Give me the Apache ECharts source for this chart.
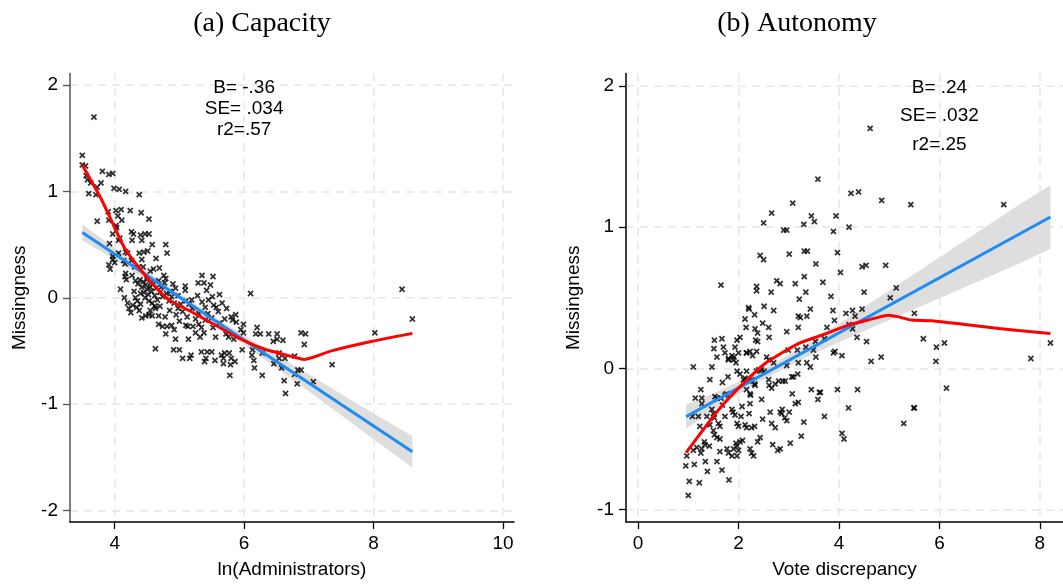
<!DOCTYPE html>
<html><head><meta charset="utf-8">
<script src="https://cdn.jsdelivr.net/npm/echarts@6/dist/echarts.min.js"></script>
<style>html,body{margin:0;padding:0;background:#fff}#c{width:1063px;height:584px}</style>
</head><body><div id="c"></div>
<script>
// ---------- Panel (a) Capacity ----------
const capacityPoints = [
[3.68,1.70],[3.50,1.34],[3.50,1.25],[3.55,1.24],[3.56,1.15],[3.58,1.11],[3.63,1.08],[3.73,1.04],[3.79,1.08],[3.60,0.98],[3.71,0.97],[3.81,1.19],[3.91,1.16],[3.97,1.17],[3.99,1.03],[4.07,1.02],[4.17,1.00],[4.38,0.97],[3.73,0.72],[3.90,0.81],[3.91,0.73],[4.02,0.82],[4.10,0.83],[4.05,0.77],[4.11,0.73],[4.24,0.82],[4.41,0.80],[4.53,0.74],[4.02,0.68],[4.03,0.66],[3.97,0.60],[4.06,0.54],[4.08,0.56],[3.92,0.51],[4.26,0.62],[4.29,0.60],[4.40,0.59],[4.47,0.60],[4.53,0.60],[4.27,0.54],[4.42,0.54],[4.58,0.50],[4.79,0.50],[4.81,0.42],[3.97,0.39],[3.97,0.36],[4.06,0.42],[4.17,0.43],[4.20,0.42],[4.00,0.33],[3.91,0.31],[3.93,0.27],[4.14,0.35],[4.16,0.32],[4.26,0.35],[4.38,0.42],[4.45,0.43],[4.51,0.44],[4.42,0.36],[4.64,0.37],[4.31,0.29],[4.37,0.29],[4.44,0.29],[4.55,0.25],[4.60,0.27],[4.69,0.28],[4.17,0.23],[4.16,0.20],[4.18,0.17],[4.27,0.21],[4.32,0.16],[4.09,0.08],[4.39,0.17],[4.36,0.13],[4.76,0.21],[4.79,0.18],[4.77,0.14],[4.90,0.13],[4.94,0.09],[5.09,0.11],[5.09,0.07],[5.35,0.21],[5.52,0.20],[5.29,0.14],[5.38,0.14],[5.42,0.07],[6.10,0.04],[5.19,-0.02],[5.51,0.01],[5.10,-0.03],[4.32,0.00],
[4.42,0.10],[4.45,0.05],[4.48,0.12],[4.50,0.08],[4.52,0.03],[4.55,0.10],[4.57,0.06],[4.60,0.13],[4.62,0.02],[4.64,0.09],[4.47,0.00],[4.53,-0.03],[4.58,-0.05],[4.66,-0.02],[4.70,0.05],[4.72,0.10],[4.74,0.01],[4.80,0.04],[4.84,-0.03],[4.86,0.06],[4.44,0.15],[4.50,0.17],[4.56,0.14],[4.68,0.16],[4.62,-0.08],[4.98,0.02],[5.02,-0.06],[4.92,-0.05],[4.88,0.01],[4.40,0.04],
[4.22,-0.10],[4.28,-0.07],[4.34,-0.09],[4.48,-0.17],[4.53,-0.16],[4.58,-0.17],[4.63,-0.10],[4.68,-0.17],[4.78,-0.18],[4.81,-0.27],[4.68,-0.25],[4.74,-0.27],[4.88,-0.26],[4.92,-0.30],[4.79,-0.34],[4.94,-0.39],[5.10,-0.26],[5.13,-0.27],[5.21,-0.27],[5.25,-0.33],[5.14,-0.39],[4.63,-0.48],[4.91,-0.49],[5.00,-0.49],[5.40,-0.09],[5.44,-0.15],[5.53,-0.07],[5.57,-0.09],[5.50,-0.19],[5.73,-0.10],[5.80,-0.18],[5.82,-0.21],[5.87,-0.16],[5.88,-0.23],[5.99,-0.25],[5.30,-0.25],[5.34,-0.28],[5.38,-0.33],[5.32,-0.37],[5.52,-0.28],[5.56,-0.37],[5.72,-0.34],[5.76,-0.37],[5.95,-0.30],[5.99,-0.33],[5.84,-0.39],[6.20,-0.28],[6.25,-0.34],[6.38,-0.34],[6.51,-0.34],[6.60,-0.40],[6.18,-0.34],[6.45,-0.41],[6.51,-0.39],[6.88,-0.33],[6.95,-0.34],[6.93,-0.44],[8.02,-0.33],[8.44,0.08],[8.60,-0.20],[5.97,-0.49],[6.13,-0.49],
[5.05,-0.57],[5.16,-0.57],[5.18,-0.54],[5.34,-0.51],[5.43,-0.51],[5.50,-0.51],[5.41,-0.57],[5.39,-0.60],[5.55,-0.59],[5.65,-0.54],[5.68,-0.57],[5.70,-0.52],[5.68,-0.62],[5.77,-0.52],[5.80,-0.57],[5.79,-0.63],[5.86,-0.60],[5.78,-0.73],[6.12,-0.54],[6.15,-0.59],[6.16,-0.66],[6.28,-0.73],[6.28,-0.52],[6.46,-0.62],[6.54,-0.52],[6.54,-0.57],[6.58,-0.66],[6.63,-0.57],[6.62,-0.78],[6.64,-0.90],[6.78,-0.55],[6.78,-0.72],[6.83,-0.68],[6.88,-0.68],[6.82,-0.81],[7.07,-0.79],[7.36,-0.63],
[4.25,-0.14],[4.38,-0.12],[4.42,-0.19],[4.55,-0.12],[4.70,-0.08],[4.85,-0.12],[4.95,-0.16],[5.05,-0.13],[5.12,-0.18],[5.20,-0.10],[5.25,-0.20],[5.30,-0.15],[5.00,-0.22],[4.98,-0.10],[5.15,-0.06],[5.28,0.02],[5.35,-0.04],[5.45,-0.02],[5.62,0.03],[5.66,-0.05],[5.48,0.12],[5.60,-0.13],[5.40,-0.21],[5.62,-0.24],[5.70,-0.20],[4.15,0.00],[4.20,-0.05],[4.30,0.06],[4.35,-0.03],[4.40,-0.06]
];
const capFitX = [3.5, 8.6];
const capFitY = [0.615, -1.449];
const capBandX = [3.5, 4, 4.5, 5, 5.5, 6, 6.5, 7, 7.5, 8, 8.6];
const capBandHi = [0.69, 0.467, 0.25, 0.039, -0.16, -0.353, -0.54, -0.72, -0.905, -1.088, -1.30];
const capBandLo = [0.54, 0.357, 0.17, -0.025, -0.23, -0.443, -0.66, -0.88, -1.105, -1.332, -1.597];
const capLowessX = [3.5, 3.8, 4.0, 4.16, 4.53, 4.84, 5.15, 5.36, 5.89, 6.3, 6.78, 6.93, 7.35, 7.98, 8.6];
const capLowessY = [1.248, 0.92, 0.66, 0.46, 0.17, -0.02, -0.12, -0.19, -0.37, -0.48, -0.56, -0.58, -0.50, -0.41, -0.335];
const capXTicks = [4, 6, 8, 10];
const capYTicks = [-2, -1, 0, 1, 2];
const capStatsText = ['B= -.36', 'SE= .034', 'r2=.57'];
const capStatsY = [1.975, 1.775, 1.585];

// ---------- Panel (b) Autonomy ----------
const autonomyPoints = [
[4.62,1.70],[3.58,1.34],[4.24,1.24],[4.39,1.25],[3.08,1.17],[4.85,1.19],[5.43,1.16],[7.28,1.16],[2.66,1.10],[3.45,1.08],[3.51,1.04],[3.94,1.08],[2.50,1.03],[3.30,1.02],[2.90,0.98],[2.96,0.98],[3.89,0.97],[4.20,1.00],[2.43,0.80],[2.50,0.77],[3.01,0.81],[3.31,0.83],[3.37,0.83],[3.97,0.82],[3.54,0.74],[4.46,0.72],[4.54,0.73],[4.93,0.73],[4.03,0.68],[1.65,0.59],[2.36,0.58],[2.36,0.55],[2.76,0.62],[2.83,0.60],[2.65,0.54],[3.13,0.60],[3.31,0.65],[3.34,0.54],[3.68,0.61],[3.21,0.49],[3.84,0.51],[4.50,0.54],[5.14,0.57],[5.02,0.50],[2.20,0.43],[2.21,0.42],[2.51,0.44],[2.70,0.41],[2.32,0.38],[2.13,0.35],[3.19,0.37],[3.23,0.36],[3.36,0.37],[3.43,0.42],[3.88,0.41],[4.14,0.39],[4.27,0.41],[4.32,0.37],[4.46,0.42],[5.50,0.39],[3.91,0.34],[2.48,0.32],[2.60,0.29],[2.15,0.29],[2.33,0.28],[2.38,0.25],[3.19,0.29],[3.76,0.29],[4.20,0.31],[4.27,0.28],[2.96,0.26],[2.61,0.22],[1.52,0.20],[1.67,0.21],[1.97,0.20],[2.03,0.22],[2.34,0.20],[2.38,0.19],[4.36,0.22],[4.55,0.19],[5.68,0.21],[5.94,0.15],[6.10,0.18],[8.21,0.18],[1.51,0.14],[1.70,0.15],[1.73,0.11],[1.93,0.15],[1.57,0.08],[1.80,0.07],[1.91,0.08],[2.16,0.11],[2.23,0.12],[2.36,0.12],[2.56,0.08],[2.99,0.13],[3.17,0.13],[3.34,0.15],[3.53,0.19],[3.71,0.21],[3.49,0.13],[3.89,0.11],[3.92,0.12],[4.06,0.09],[4.84,0.08],[7.82,0.07],
[1.10,0.01],[1.47,0.01],[4.64,0.05],[5.93,0.05],[6.14,-0.14],[1.43,-0.08],[1.68,-0.10],[1.79,-0.06],[1.25,-0.15],[1.14,-0.21],[1.27,-0.21],[1.27,-0.25],[1.53,-0.20],[1.57,-0.21],[1.65,-0.21],[1.73,-0.19],[1.76,-0.18],[1.68,-0.26],[1.08,-0.34],[1.20,-0.34],[1.37,-0.34],[1.47,-0.29],[1.50,-0.32],[1.52,-0.35],[1.23,-0.41],[1.43,-0.40],[1.50,-0.44],[1.60,-0.39],[1.63,-0.41],[1.52,-0.47],[1.57,-0.49],[1.63,-0.50],[1.73,-0.34],[1.87,-0.29],[1.89,-0.31],[1.93,-0.33],[1.10,-0.58],[1.17,-0.56],[1.27,-0.57],[1.33,-0.54],[1.32,-0.52],[1.42,-0.55],[1.25,-0.60],[1.63,-0.59],[1.77,-0.57],[1.80,-0.60],[1.87,-0.62],[1.90,-0.57],[1.95,-0.53],[1.97,-0.55],[2.00,-0.58],[2.03,-0.52],[2.08,-0.51],[1.97,-0.62],[0.97,-0.62],[0.95,-0.69],[1.12,-0.68],[1.02,-0.80],[1.00,-0.90],[1.22,-0.81],[1.38,-0.73],[1.34,-0.66],[1.57,-0.66],[1.67,-0.72],[1.81,-0.79],[2.23,-0.57],[2.26,-0.60],[2.30,-0.62],[2.38,-0.52],[2.43,-0.49],[2.13,-0.40],[2.16,-0.42],[2.26,-0.42],[2.32,-0.41],[1.97,-0.39],[2.00,-0.41],[2.05,-0.34],[2.21,-0.32],[2.48,-0.36],[2.07,-0.27],[2.23,-0.25],[2.46,-0.22],[2.63,-0.31],[2.66,-0.39],[2.73,-0.42],[2.68,-0.54],[2.78,-0.58],[2.83,-0.57],[2.83,-0.31],[2.86,-0.32],[2.87,-0.29],[2.92,-0.35],[2.96,-0.37],[3.01,-0.31],[3.03,-0.53],[3.25,-0.48],[3.30,-0.38],[3.13,-0.25],[3.19,-0.24],[3.07,-0.18],[3.45,-0.15],[3.58,-0.22],[3.61,-0.17],[3.63,-0.17],[3.71,-0.34],[3.97,-0.15],[4.19,-0.28],[4.06,-0.46],[4.10,-0.50],[4.37,-0.15],[5.29,-0.39],[5.49,-0.28],[5.50,-0.28],
[1.97,-0.02],[2.03,-0.04],[2.10,-0.08],[2.13,-0.07],[2.16,-0.02],[2.21,-0.09],[2.26,-0.08],[2.32,-0.11],[2.36,-0.02],[2.40,-0.01],[2.46,-0.01],[2.51,-0.02],[2.60,-0.08],[2.61,-0.12],[2.66,-0.14],[2.73,-0.11],[2.80,-0.09],[2.88,-0.09],[2.93,-0.09],[2.16,-0.15],[2.23,-0.18],[2.24,-0.19],[2.33,-0.12],
[1.87,0.09],[1.90,0.06],[1.95,0.04],[1.80,0.06],[2.00,0.11],[2.16,0.11],[2.28,0.09],[2.60,0.06],[2.70,0.04],[2.96,0.02],[3.19,0.04],[3.36,0.04],[3.43,0.01],[3.54,0.08],[3.06,-0.06],[3.18,-0.04],[3.09,-0.06]
];
const autFitX = [0.956, 8.21];
const autFitY = [-0.342, 1.072];
const autBandX = [0.956, 1.5, 2, 2.5, 3, 3.5, 4, 4.5, 5, 5.5, 6, 6.5, 7, 7.5, 8.21];
const autBandHi = [-0.257, -0.177, -0.094, -0.003, 0.096, 0.202, 0.316, 0.434, 0.551, 0.669, 0.786, 0.904, 1.021, 1.139, 1.297];
const autBandLo = [-0.427, -0.297, -0.184, -0.079, 0.016, 0.106, 0.186, 0.264, 0.341, 0.419, 0.496, 0.574, 0.651, 0.729, 0.847];
const autLowessX = [0.956, 1.2, 1.6, 2.0, 2.53, 3.2, 3.66, 4.19, 4.52, 4.99, 5.19, 5.45, 5.85, 6.51, 7.18, 8.21];
const autLowessY = [-0.597, -0.48, -0.295, -0.14, 0.035, 0.177, 0.235, 0.306, 0.337, 0.377, 0.365, 0.342, 0.337, 0.311, 0.283, 0.247];
const autXTicks = [0, 2, 4, 6, 8];
const autYTicks = [-1, 0, 1, 2];
const autStatsText = ['B= .24', 'SE= .032', 'r2=.25'];
const autStatsY = [1.985, 1.787, 1.587];

const panelTitles = ['(a) Capacity', '(b) Autonomy'];
const xNames = ['ln(Administrators)', 'Vote discrepancy'];
const yName = 'Missingness';

// ---------- builders ----------
const SANS = 'Liberation Sans';
const XMARK = 'path://M0,2L2,0L5,3L8,0L10,2L7,5L10,8L8,10L5,7L2,10L0,8L3,5Z';
const zip = (a, b) => a.map((v, i) => [v, b[i]]);
const GRIDLINE = {show: true, lineStyle: {color: '#e6e6e6', width: 1.5, type: [8, 6]}};

function makeXAxis(gi, min, max, step, ticks, name) {
  return {
    type: 'value', gridIndex: gi, min: min, max: max, minInterval: step, maxInterval: step, splitNumber: 4,
    name: name, nameLocation: 'middle', nameGap: 38,
    nameTextStyle: {fontFamily: SANS, fontSize: 19, color: '#000'},
    axisLine: {show: true, onZero: false, lineStyle: {color: '#000', width: 1.5}},
    axisTick: {show: true, length: 7, customValues: ticks, lineStyle: {color: '#000', width: 1.3}},
    axisLabel: {margin: 12, fontFamily: SANS, fontSize: 19, color: '#000', customValues: ticks,
      formatter: v => ticks.indexOf(v) >= 0 ? String(v) : ''},
    splitLine: GRIDLINE
  };
}
function makeYAxis(gi, min, max, step, ticks, lineColor, gap) {
  return {
    type: 'value', gridIndex: gi, min: min, max: max, minInterval: step, maxInterval: step, splitNumber: 4,
    name: yName, nameLocation: 'middle', nameGap: gap, nameRotate: 90,
    nameTextStyle: {fontFamily: SANS, fontSize: 19, color: '#000'},
    axisLine: {show: true, onZero: false, lineStyle: {color: lineColor, width: 1.5}},
    axisTick: {show: true, length: 7, customValues: ticks, lineStyle: {color: lineColor, width: 1.3}},
    axisLabel: {margin: 12, fontFamily: SANS, fontSize: 19, color: '#000', customValues: ticks,
      formatter: v => ticks.indexOf(v) >= 0 ? String(v) : ''},
    splitLine: GRIDLINE
  };
}
function bandSeries(i, bx, lo, hi) {
  return {
    type: 'custom', xAxisIndex: i, yAxisIndex: i, z: 1, silent: true, clip: true,
    data: [[bx[0], lo[0]]],
    renderItem: function (params, api) {
      const pts = [];
      for (let k = 0; k < bx.length; k++) pts.push(api.coord([bx[k], hi[k]]));
      for (let k = bx.length - 1; k >= 0; k--) pts.push(api.coord([bx[k], lo[k]]));
      return {type: 'polygon', shape: {points: pts}, style: {fill: '#dedede'}};
    }
  };
}
function scatterSeries(i, pts) {
  return {type: 'scatter', xAxisIndex: i, yAxisIndex: i, z: 2, data: pts, symbol: XMARK, symbolSize: 6.3,
    itemStyle: {color: '#000'}, silent: true};
}
function lineSeries(i, xs, ys, color, z, smooth) {
  return {type: 'line', xAxisIndex: i, yAxisIndex: i, z: z, data: zip(xs, ys), showSymbol: false, symbol: 'none',
    smooth: smooth, lineStyle: {color: color, width: 3}, silent: true};
}
function statsSeries(i, texts, ys) {
  return {type: 'scatter', xAxisIndex: i, yAxisIndex: i, z: 5, symbolSize: 1, itemStyle: {color: '#fff'}, silent: true,
    data: texts.map((t, k) => ({value: [6, ys[k]], name: t})),
    label: {show: true, position: 'inside', formatter: p => p.name, fontFamily: SANS, fontSize: 19,
      color: '#000', opacity: 1, textBorderWidth: 0, textShadowBlur: 0}};
}

const chart = echarts.init(document.getElementById('c'), null, {renderer: 'canvas'});
chart.setOption({
  animation: false,
  backgroundColor: '#fff',
  graphic: [
    {type: 'text', x: 262, y: 24, style: {text: panelTitles[0], font: '28px "Liberation Serif"', fill: '#000', textAlign: 'center', textVerticalAlign: 'middle'}},
    {type: 'text', x: 797, y: 24, style: {text: panelTitles[1], font: '28px "Liberation Serif"', fill: '#000', textAlign: 'center', textVerticalAlign: 'middle'}}
  ],
  grid: [
    {left: 70, top: 73.5, width: 444, height: 452},
    {left: 626, top: 73.6, width: 445, height: 453}
  ],
  xAxis: [
    makeXAxis(0, 3.31, 10.17, 2, capXTicks, xNames[0]),
    makeXAxis(1, -0.24, 8.46, 2, autXTicks, xNames[1])
  ],
  yAxis: [
    makeYAxis(0, -2.11, 2.11, 1, capYTicks, '#555', 41),
    makeYAxis(1, -1.088, 2.088, 1, autYTicks, '#000', 43)
  ],
  series: [
    bandSeries(0, capBandX, capBandLo, capBandHi),
    scatterSeries(0, capacityPoints),
    lineSeries(0, capFitX, capFitY, '#1e8cf5', 3, false),
    lineSeries(0, capLowessX, capLowessY, '#ff0000', 4, 0.2),
    statsSeries(0, capStatsText, capStatsY),
    bandSeries(1, autBandX, autBandLo, autBandHi),
    scatterSeries(1, autonomyPoints),
    lineSeries(1, autFitX, autFitY, '#1e8cf5', 3, false),
    lineSeries(1, autLowessX, autLowessY, '#ff0000', 4, 0.2),
    statsSeries(1, autStatsText, autStatsY)
  ]
});
</script></body></html>
